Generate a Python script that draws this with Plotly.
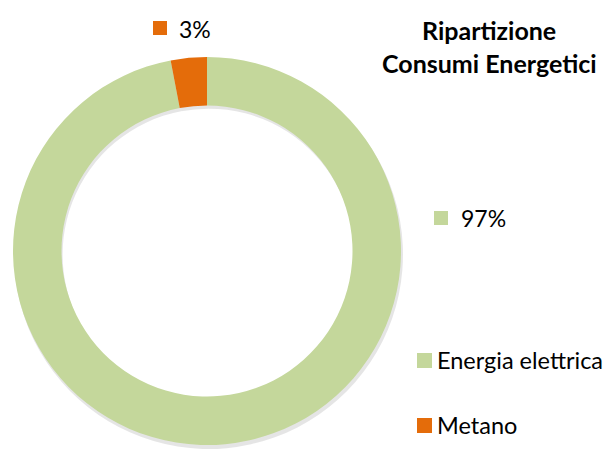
import plotly.graph_objects as go

labels = ["Energia elettrica", "Metano"]
values = [97, 3]
colors = ["#C4D79B", "#E46C0A"]
title_lines = ["Ripartizione", "Consumi Energetici"]

W, H = 607, 450
FONT = "Lato"

fig = go.Figure()
# soft shadow
fig.add_trace(go.Pie(
    labels=labels, values=values, sort=False, direction="clockwise",
    hole=0.75, marker=dict(colors=["rgba(0,0,0,0.10)"] * 2, line=dict(width=0)),
    textinfo="none", hoverinfo="skip", showlegend=False,
    domain=dict(x=[13 / W, 404 / W], y=[(H - 449) / H, (H - 60) / H]),
))
fig.add_trace(go.Pie(
    labels=labels, values=values, sort=False, direction="clockwise",
    hole=0.75, marker=dict(colors=colors, line=dict(width=0)),
    textinfo="none", showlegend=False,
    domain=dict(x=[12 / W, 402 / W], y=[(H - 445) / H, (H - 57) / H]),
))

total = sum(values)
pct = [f"{v / total * 100:.0f}%" for v in values]

shapes = []
annotations = []

def px_x(x):
    return x / W

def px_y(y):
    return 1 - y / H

def key(x0, y0, size, color):
    shapes.append(dict(type="rect", xref="paper", yref="paper",
                       x0=px_x(x0), x1=px_x(x0 + size),
                       y0=px_y(y0 + size), y1=px_y(y0),
                       fillcolor=color, line=dict(width=0)))

def text(x, y, s, size=23, bold=False, xanchor="left"):
    annotations.append(dict(xref="paper", yref="paper", x=px_x(x), y=px_y(y),
                            text=f"<b>{s}</b>" if bold else s, showarrow=False,
                            xanchor=xanchor, yanchor="middle",
                            font=dict(family=FONT, size=size, color="#000000")))

# data labels
key(153, 21, 14, colors[1])
text(177, 29, pct[1])
key(434, 211, 14, colors[0])
text(459, 218, pct[0])

# title
text(489, 30, title_lines[0], size=25, bold=True, xanchor="center")
text(489, 63, title_lines[1], size=25, bold=True, xanchor="center")

# legend
key(417, 353, 15, colors[0])
text(435, 360, labels[0], size=23.5)
key(417, 418, 15, colors[1])
text(435, 425, labels[1], size=23.5)

fig.update_layout(
    width=W, height=H, margin=dict(l=0, r=0, t=0, b=0),
    paper_bgcolor="white", plot_bgcolor="white",
    shapes=shapes, annotations=annotations,
)

fig.write_html("out.html", config={"displayModeBar": False},
               post_script="document.body.style.margin='0';")
